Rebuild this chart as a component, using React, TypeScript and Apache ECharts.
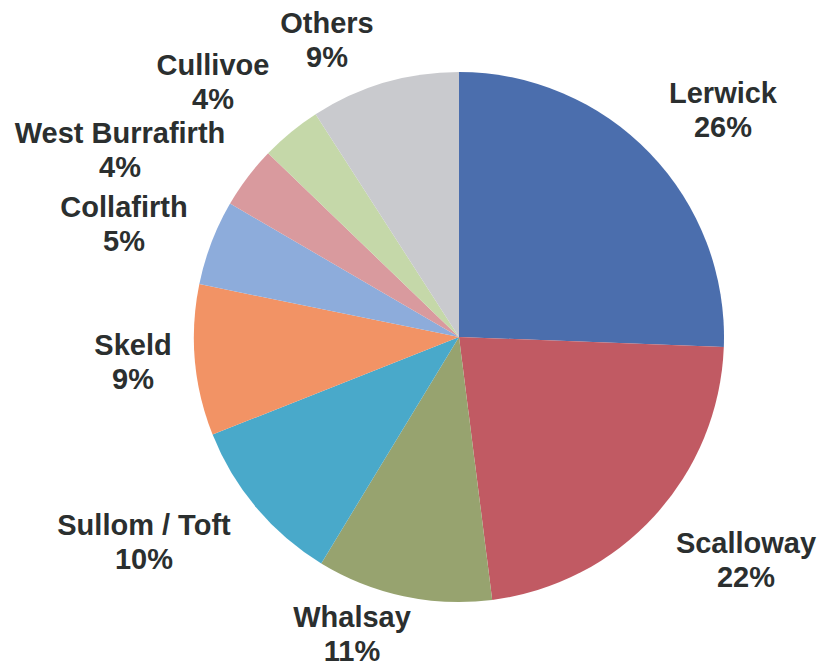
import React, { useEffect, useRef } from "react";
import * as echarts from "echarts";

const categories = [
  "Lerwick",
  "Scalloway",
  "Whalsay",
  "Sullom / Toft",
  "Skeld",
  "Collafirth",
  "West Burrafirth",
  "Cullivoe",
  "Others",
];
const shares = [25.6, 22.4, 10.7, 10.3, 9.2, 5.2, 3.8, 3.7, 9.1];
const colors = [
  "#4b6ead",
  "#c15a63",
  "#97a36f",
  "#49a9ca",
  "#f29365",
  "#8dacdb",
  "#d99a9e",
  "#c5d8a9",
  "#c9cace",
];
// label block centres (layout)
const labelPos: [number, number][] = [
  [723, 110],
  [746, 560],
  [352, 634],
  [144, 542],
  [133, 362],
  [124, 224],
  [120, 150],
  [213, 82],
  [327, 40],
];

export default function App() {
  const ref = useRef<HTMLDivElement>(null);
  useEffect(() => {
    if (!ref.current) return;
    const chart = echarts.init(ref.current, undefined, { renderer: "svg" });
    chart.setOption({
      animation: false,
      backgroundColor: "#ffffff",
      series: [
        {
          type: "pie",
          center: [459, 337],
          radius: 265,
          startAngle: 90,
          clockwise: true,
          percentPrecision: 0,
          avoidLabelOverlap: false,
          data: categories.map((name, i) => ({
            name,
            value: shares[i],
            itemStyle: { color: colors[i] },
          })),
          itemStyle: { borderWidth: 0 },
          emphasis: { disabled: true },
          label: {
            show: true,
            position: "outside",
            formatter: "{b}\n{d}%",
            fontFamily: "'Liberation Sans', Arial, sans-serif",
            fontWeight: "bold",
            fontSize: 29,
            lineHeight: 34,
            color: "#2b2f2f",
            align: "center",
          },
          labelLine: { show: false },
          labelLayout: (params: any) => {
            const p = labelPos[params.dataIndex];
            return {
              x: p[0],
              y: p[1],
              align: "center",
              verticalAlign: "middle",
            };
          },
        },
      ],
    });
    return () => chart.dispose();
  }, []);
  return (
    <div
      ref={ref}
      style={{ position: "fixed", left: 0, top: 0, width: 820, height: 669, background: "#fff" }}
    />
  );
}
